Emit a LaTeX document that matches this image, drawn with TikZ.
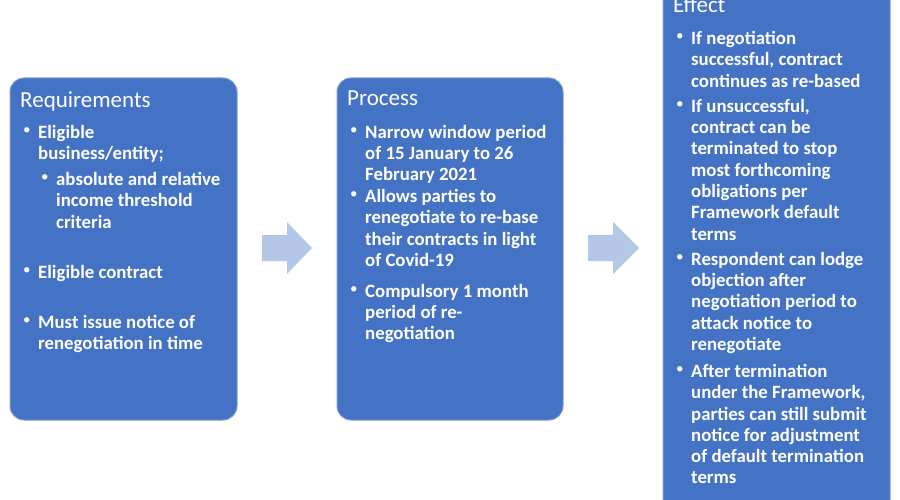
\documentclass[tikz,border=0pt]{standalone}
\usepackage{fontspec}
\setmainfont{Carlito}
\usetikzlibrary{shapes.arrows}
\definecolor{boxblue}{HTML}{4472C4}
\definecolor{arrowblue}{HTML}{B4C7E7}
\begin{document}
\begin{tikzpicture}[x=1pt,y=-1pt,
  panel/.style={fill=boxblue,draw=boxblue!70!white,line width=1pt,rounded corners=14pt},
  title/.style={anchor=north west,inner sep=0,text=white,font=\fontsize{23}{26}\selectfont},
  item/.style={anchor=north west,inner sep=0,text=white,align=left,font=\bfseries\fontsize{18.8}{21.3}\selectfont},
  dot/.style={anchor=north west,inner sep=0,text=white,font=\fontsize{15}{21.3}\selectfont},
  blockarrow/.style={fill=arrowblue,draw=none}]
\useasboundingbox (0,0) rectangle (900,500);
\fill[white] (0,0) rectangle (900,500);
\draw[panel] (10,78) rectangle (237,420);
\draw[panel] (337,78) rectangle (563,420);
\draw[panel] (663,-30) rectangle (890,520);
\fill[blockarrow] (262,235) -- (287,235) -- (287,222) -- (312,248) -- (287,274) -- (287,261) -- (262,261) -- cycle;
\fill[blockarrow] (588,235) -- (613,235) -- (613,222) -- (639,248) -- (613,274) -- (613,261) -- (588,261) -- cycle;
% Requirements
\node[title] (t1) at (20,91) {Requirements};
\node[dot] (d11) at (23,127) {•}; \node[item] (i11) at (38,125) {Eligible\\business/entity;};
\node[dot] (d12) at (41,174) {•}; \node[item] (i12) at (56,172) {absolute and relative\\income threshold\\criteria};
\node[dot] (d13) at (23,267) {•}; \node[item] (i13) at (38,265) {Eligible contract};
\node[dot] (d14) at (23,317) {•}; \node[item] (i14) at (38,315) {Must issue notice of\\renegotiation in time};
% Process
\node[title] (t2) at (347,91) {Process};
\node[dot] (d21) at (350,127) {•}; \node[item] (i21) at (365,125) {Narrow window period\\of 15 January to 26\\February 2021};
\node[dot] (d22) at (350,191) {•}; \node[item] (i22) at (365,189) {Allows parties to\\renegotiate to re-base\\their contracts in light\\of Covid-19};
\node[dot] (d23) at (350,286) {•}; \node[item] (i23) at (365,284) {Compulsory 1 month\\period of re-\\negotiation};
% Effect
\node[title] (t3) at (673,-4) {Effect};
\node[dot] (d31) at (676,33) {•}; \node[item] (i31) at (691,31) {If negotiation\\successful, contract\\continues as re-based};
\node[dot] (d32) at (676,101) {•}; \node[item] (i32) at (691,99) {If unsuccessful,\\contract can be\\terminated to stop\\most forthcoming\\obligations per\\Framework default\\terms};
\node[dot] (d33) at (676,254) {•}; \node[item] (i33) at (691,252) {Respondent can lodge\\objection after\\negotiation period to\\attack notice to\\renegotiate};
\node[dot] (d34) at (676,366) {•}; \node[item] (i34) at (691,364) {After termination\\under the Framework,\\parties can still submit\\notice for adjustment\\of default termination\\terms};
\end{tikzpicture}
\end{document}
